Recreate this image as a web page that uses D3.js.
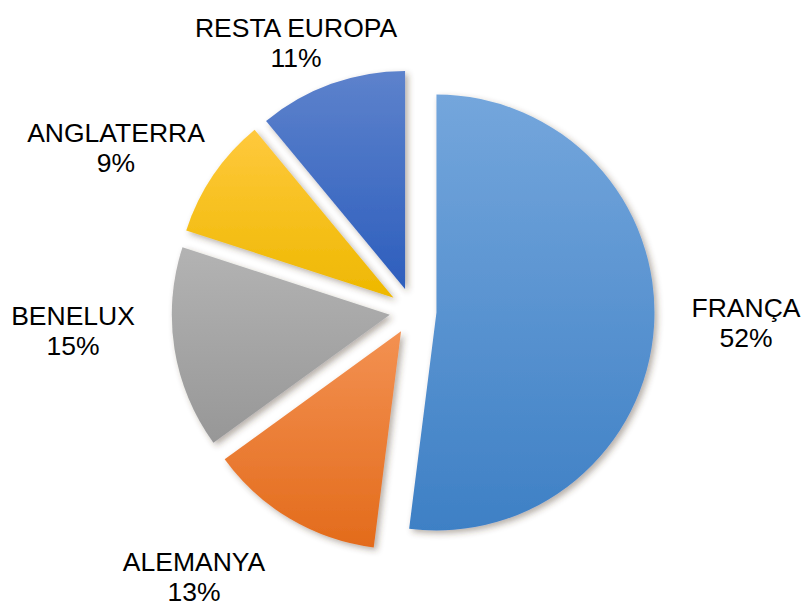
<!DOCTYPE html>
<html>
<head>
<meta charset="utf-8">
<script src="https://cdn.jsdelivr.net/npm/d3@7"></script>
<style>
  body { margin: 0; background: #fff; }
  text { font-family: Arial, "Liberation Sans", sans-serif; }
</style>
</head>
<body>
<div id="chart"></div>
<script>
var categories = ["FRANÇA", "ALEMANYA", "BENELUX", "ANGLATERRA", "RESTA EUROPA"];
var values = [52, 13, 15, 9, 11];
var pctLabels = ["52%", "13%", "15%", "9%", "11%"];

var width = 806, height = 606;
var cx = 413, cy = 311;
var radius = 218;
var explode = 23.5;

// gradient stops per slice, top -> bottom
var gradTop = ["#74a6dc", "#f39152", "#b3b3b3", "#ffc93d", "#5d82cc"];
var gradBot = ["#3e80c5", "#e36b1b", "#979797", "#eeb800", "#2d5ebd"];

// label block: centre x and first baseline (layout only)
var labelAt = {
  "FRANÇA": [746, 317],
  "ALEMANYA": [194, 571],
  "BENELUX": [73, 325],
  "ANGLATERRA": [116, 142],
  "RESTA EUROPA": [296, 37]
};

var svg = d3.select("#chart")
  .append("svg")
    .attr("width", width)
    .attr("height", height);

var defs = svg.append("defs");

var shadow = defs.append("filter")
    .attr("id", "shadow")
    .attr("x", "-20%").attr("y", "-20%")
    .attr("width", "140%").attr("height", "140%");
shadow.append("feDropShadow")
    .attr("dx", 3).attr("dy", 3)
    .attr("stdDeviation", 3)
    .attr("flood-color", "#4a3a2a")
    .attr("flood-opacity", 0.4);

categories.forEach(function(c, i) {
  var g = defs.append("linearGradient")
      .attr("id", "grad" + i)
      .attr("x1", 0).attr("y1", 0)
      .attr("x2", 0).attr("y2", 1);
  g.append("stop").attr("offset", "0%").attr("stop-color", gradTop[i]);
  g.append("stop").attr("offset", "100%").attr("stop-color", gradBot[i]);
});

var data = categories.map(function(c, i) {
  return {name: c, value: values[i], pct: pctLabels[i], idx: i};
});

var pie = d3.pie()
    .sort(null)
    .value(function(d) { return d.value; });

var arc = d3.arc()
    .innerRadius(0)
    .outerRadius(radius);

var g = svg.append("g")
    .attr("transform", "translate(" + cx + "," + cy + ")");

g.selectAll(".slice")
  .data(pie(data))
  .enter().append("path")
    .attr("class", "slice")
    .attr("transform", function(d) {
      var mid = (d.startAngle + d.endAngle) / 2;
      return "translate(" + (Math.sin(mid) * explode) + "," + (-Math.cos(mid) * explode) + ")";
    })
    .attr("d", arc)
    .attr("fill", function(d) { return "url(#grad" + d.data.idx + ")"; })
    .attr("filter", "url(#shadow)");

var labels = svg.selectAll(".label")
  .data(data)
  .enter().append("text")
    .attr("class", "label")
    .attr("text-anchor", "middle")
    .attr("font-size", 26.5)
    .attr("fill", "#000")
    .attr("transform", function(d) {
      var p = labelAt[d.name];
      return "translate(" + p[0] + "," + p[1] + ")";
    });

labels.append("tspan")
    .attr("x", 0)
    .attr("y", 0)
    .text(function(d) { return d.name; });

labels.append("tspan")
    .attr("x", 0)
    .attr("y", 30)
    .text(function(d) { return d.pct; });
</script>
</body>
</html>
